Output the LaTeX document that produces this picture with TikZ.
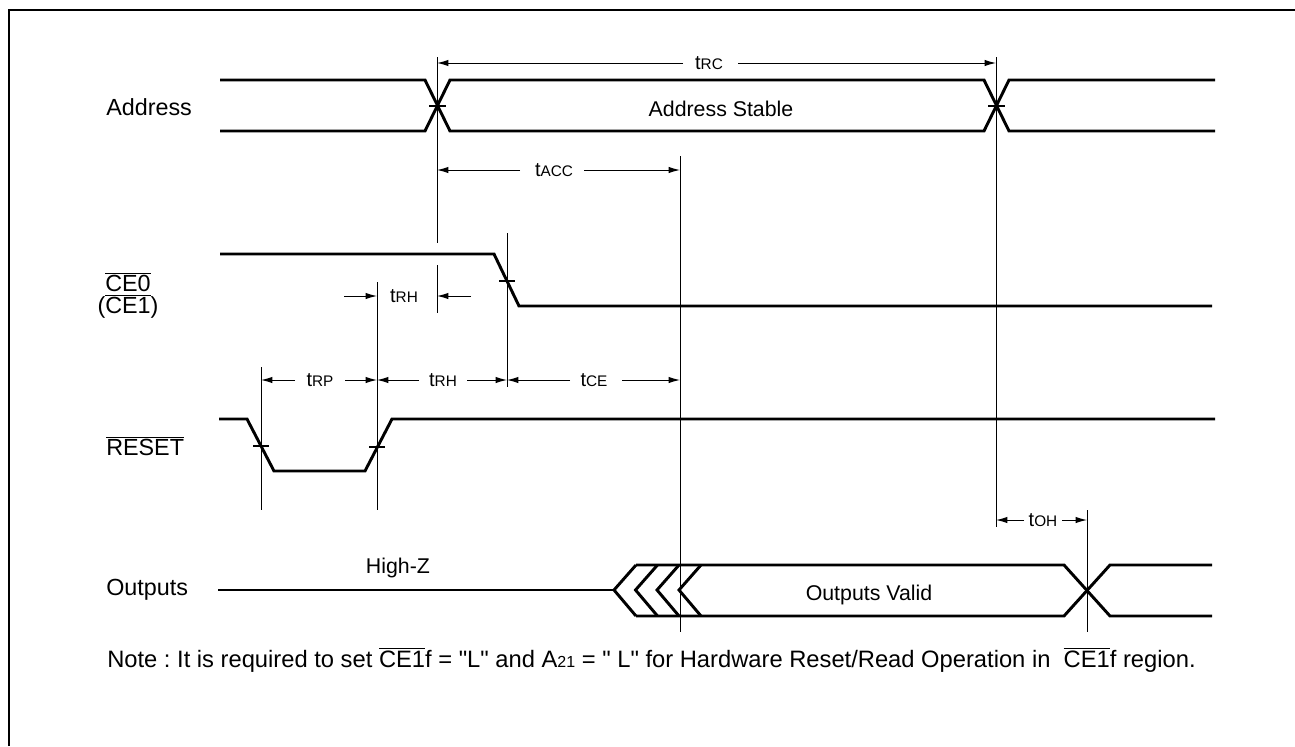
\documentclass[tikz,border=0pt]{standalone}
\usepackage{fontspec}
\setmainfont{Liberation Sans}
\newfontfamily\qf{Liberation Sans}
\usetikzlibrary{arrows.meta}
\frenchspacing
\newcommand\tlab[1]{t{\fontsize{11.5}{13}\selectfont #1}}
\newcommand\ovl[1]{\mbox{$\overline{\mbox{#1}}$}}
\newcommand\dq{{\qf"}}
\begin{document}
\begin{tikzpicture}[x=0.75pt,y=-0.75pt,
  sig/.style={line width=2.2pt},
  vl/.style={line width=0.75pt},
  tick/.style={line width=1pt},
  dim/.style={line width=0.75pt,-{Latex[length=8.5pt,width=4.8pt]}},
  txt/.style={inner sep=0pt,font=\fontsize{16}{19}\selectfont},
  side/.style={inner sep=0pt,font=\fontsize{17.5}{20}\selectfont},
  tl/.style={inner sep=0pt,font=\fontsize{15}{17}\selectfont}]
\useasboundingbox (0,0) rectangle (1295,746);
% frame
\draw[line width=2.2pt] (9,746) -- (9,10) -- (1295,10);

% labels
\node[side,anchor=west] (lAddr) at (106,107) {Address};
\node[side] (lCE0) at (128,282) {\ovl{CE0}};
\node[side] (lCE1) at (128,306) {(\ovl{CE1})};
\node[side,anchor=west] (lRst) at (106,446) {\ovl{RESET}};
\node[side,anchor=west] (lOut) at (106,590) {Outputs};

% Address
\draw[sig] (220,80) -- (425,80) -- (450,131) -- (984,131) -- (1009,80) -- (1215,80);
\draw[sig] (220,131) -- (425,131) -- (450,80) -- (984,80) -- (1009,131) -- (1215,131);
\node[txt] (aStable) at (721,109) {Address Stable};
\draw[tick] (429,106) -- (446,106);
\draw[tick] (988,106) -- (1005,106);

% CE0
\draw[sig] (220,254) -- (494,254) -- (519,306) -- (1212,306);
\draw[tick] (499,281) -- (515,281);

% RESET
\draw[sig] (219,419) -- (247,419) -- (274,471) -- (365,471) -- (392,419) -- (1215,419);
\draw[tick] (253,446) -- (269,446);
\draw[tick] (369,447) -- (385,447);

% Outputs
\draw[sig] (218,590) -- (614,590);
\node[txt] (hz) at (398,568) {High-Z};
\foreach \t in {614,635.5,657,679} {
  \draw[sig] (\t+22,565) -- (\t,590) -- (\t+22,616);
}
\draw[sig] (636,565) -- (1064,565) -- (1110,616) -- (1212,616);
\draw[sig] (636,616) -- (1064,616) -- (1110,565) -- (1212,565);
\node[txt] (oValid) at (869,595) {Outputs Valid};

% vertical reference lines
\draw[vl] (437,57) -- (437,243);
\draw[vl] (437,265) -- (437,313);
\draw[vl] (996,57) -- (996,527);
\draw[vl] (680,156) -- (680,632);
\draw[vl] (507,233) -- (507,387);
\draw[vl] (377,282) -- (377,510);
\draw[vl] (261,367) -- (261,510);
\draw[vl] (1087,510) -- (1087,632);

% timing dimensions
\node[tl] (tRC) at (709,63) {\tlab{RC}};
\draw[dim] (683,63) -- (437,63);
\draw[dim] (738,63) -- (996,63);

\node[tl] (tACC) at (554,170) {\tlab{ACC}};
\draw[dim] (520,170) -- (437,170);
\draw[dim] (584,170) -- (680,170);

\node[tl] (tRH1) at (404,296) {\tlab{RH}};
\draw[dim] (344,296) -- (377,296);
\draw[dim] (471,296) -- (437,296);

\node[tl] (tRP) at (320,380) {\tlab{RP}};
\draw[dim] (295,380) -- (261,380);
\draw[dim] (345,380) -- (377,380);

\node[tl] (tRH2) at (443,380) {\tlab{RH}};
\draw[dim] (419,380) -- (377,380);
\draw[dim] (467,380) -- (507,380);

\node[tl] (tCE) at (594,380) {\tlab{CE}};
\draw[dim] (570,380) -- (507,380);
\draw[dim] (622,380) -- (680,380);

\node[tl] (tOH) at (1043,520) {\tlab{OH}};
\draw[dim] (1024,520) -- (996,520);
\draw[dim] (1062,520) -- (1087,520);

% note
\node[side,anchor=west,font=\fontsize{17.8}{20}\selectfont] (note) at (107,660) {Note : It is required to set \ovl{CE1}f = \dq L\dq{} and A{\fontsize{12}{13}\selectfont 21} = \dq{} L\dq{} for Hardware Reset/Read Operation in \ \ovl{CE1}f region.};
\end{tikzpicture}
\end{document}
